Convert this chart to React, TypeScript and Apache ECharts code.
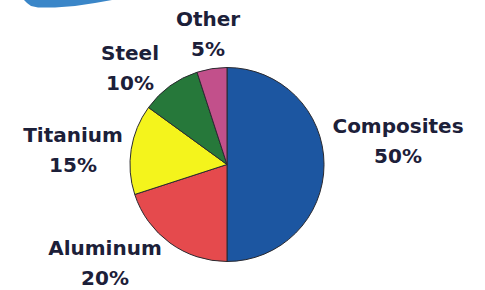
import React, { useEffect, useRef } from "react";
import * as echarts from "echarts";

const categories = ["Composites", "Aluminum", "Titanium", "Steel", "Other"];
const shares = [50, 20, 15, 10, 5];
const sliceColors = ["#1c56a1", "#e54a4d", "#f4f41c", "#26783a", "#c2508b"];

// label anchor points (layout only)
const labelSpots: Record<string, [number, number]> = {
  Composites: [398, 141],
  Aluminum: [105, 263],
  Titanium: [73, 150],
  Steel: [130, 68],
  Other: [208, 34],
};

export default function App() {
  const ref = useRef<HTMLDivElement>(null);
  useEffect(() => {
    if (!ref.current) return;
    const chart = echarts.init(ref.current, null, { renderer: "svg" });
    chart.setOption({
      animation: false,
      backgroundColor: "#ffffff",
      graphic: [
        {
          type: "polygon",
          shape: {
            points: [
              [24, 0],
              [27, 3],
              [31, 6],
              [38, 7.5],
              [55, 7.5],
              [75, 6],
              [95, 3],
              [112, 0],
            ],
          },
          style: { fill: "#3a86c8" },
        },
      ],
      series: [
        {
          type: "pie",
          center: [227, 164.5],
          radius: 97,
          startAngle: 90,
          clockwise: true,
          percentPrecision: 0,
          avoidLabelOverlap: false,
          itemStyle: { borderColor: "#2a2a30", borderWidth: 1 },
          emphasis: { disabled: true },
          label: {
            show: true,
            position: "outside",
            alignTo: "none",
            overflow: "none",
            formatter: "{b}\n{d}%",
            fontFamily: "DejaVu Sans",
            fontWeight: "bold",
            fontSize: 20,
            lineHeight: 30,
            color: "#1c2039",
            align: "center",
          },
          labelLine: { show: false },
          labelLayout: (params: any) => {
            const name = categories[params.dataIndex];
            const p = labelSpots[name];
            return { x: p[0], y: p[1], align: "center", verticalAlign: "middle", width: 200 };
          },
          data: categories.map((c, i) => ({
            name: c,
            value: shares[i],
            itemStyle: { color: sliceColors[i] },
          })),
        },
      ],
    });
    return () => chart.dispose();
  }, []);
  return (
    <div
      ref={ref}
      style={{ position: "fixed", left: 0, top: 0, width: 485, height: 290 }}
    />
  );
}
